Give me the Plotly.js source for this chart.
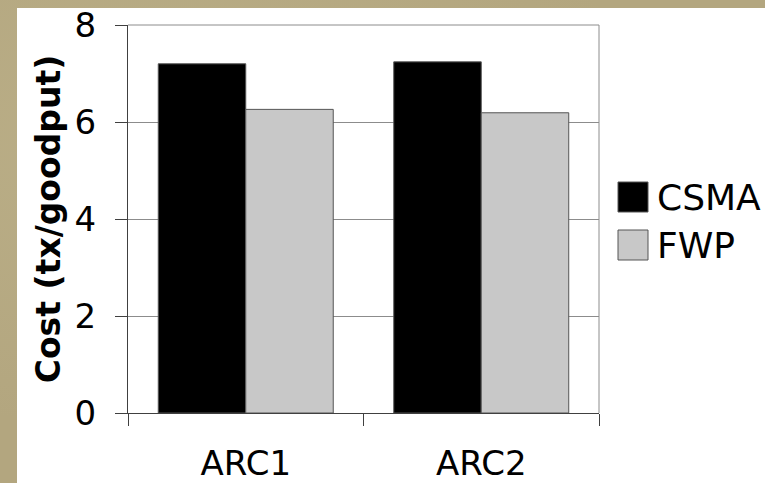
<!DOCTYPE html>
<html>
<head>
<meta charset="utf-8">
<script src="https://cdn.plot.ly/plotly-3.0.1.min.js"></script>
<style>
  html, body { margin: 0; padding: 0; width: 765px; height: 483px; overflow: hidden;
    background: #b3a67f;
    background-image: radial-gradient(ellipse at 20% 30%, rgba(200,190,150,0.35), rgba(0,0,0,0) 60%),
                      radial-gradient(ellipse at 80% 80%, rgba(150,140,100,0.3), rgba(0,0,0,0) 60%); }
  #panel { position: absolute; left: 17px; top: 8px; width: 748px; height: 475px; background: #fff; }
  #chart { position: absolute; left: 0; top: 0; width: 765px; height: 483px; }
</style>
</head>
<body>
<div id="panel"></div>
<div id="chart"></div>
<script>
// ---- data ----
const categories = ["ARC1", "ARC2"];
const seriesNames = ["CSMA", "FWP"];
const csmaValues = [7.20, 7.24];
const fwpValues = [6.26, 6.19];
const yTickValues = [0, 2, 4, 6, 8];

// ---- styling ----
const FONT = "DejaVu Sans, Verdana, sans-serif";
const colors = ["#000000", "#c8c8c8"];
const W = 765, H = 483;
const M = { l: 128, r: 166, t: 25, b: 70 };
const plotW = W - M.l - M.r, plotH = H - M.t - M.b;
const px = p => (p - M.l) / plotW;
const py = p => (H - M.b - p) / plotH;

const traces = [
  { type: "bar", name: seriesNames[0], x: categories, y: csmaValues,
    marker: { color: colors[0], line: { color: "#555555", width: 1 } }, showlegend: false },
  { type: "bar", name: seriesNames[1], x: categories, y: fwpValues,
    marker: { color: colors[1], line: { color: "#555555", width: 1 } }, showlegend: false }
];

// manual legend (large squares)
const legendRows = [ { y: 197 }, { y: 245 } ];
const shapes = [
  { type: "line", xref: "paper", yref: "paper", x0: 1, x1: 1, y0: 0, y1: 1, line: { color: "#8c8c8c", width: 1 }, layer: "below" },
  { type: "line", xref: "paper", yref: "paper", x0: 0, x1: 1, y0: 1, y1: 1, line: { color: "#8c8c8c", width: 1 }, layer: "below" }
];
const annotations = [];
seriesNames.forEach((n, i) => {
  const cy = legendRows[i].y;
  shapes.push({ type: "rect", xref: "paper", yref: "paper",
    x0: px(618), x1: px(648), y0: py(cy - 15), y1: py(cy + 15),
    fillcolor: colors[i], line: { color: "#555555", width: 1 } });
  annotations.push({ xref: "paper", yref: "paper", x: px(655), y: py(cy),
    xanchor: "left", yanchor: "middle", showarrow: false, text: n,
    font: { family: FONT, size: 36, color: "#000" } });
});

const layout = {
  width: W, height: H,
  paper_bgcolor: "rgba(0,0,0,0)", plot_bgcolor: "#ffffff",
  margin: M,
  barmode: "group", bargap: 0.257, bargroupgap: 0,
  showlegend: false,
  font: { family: FONT, color: "#000" },
  xaxis: {
    type: "category", tickson: "boundaries", ticks: "outside", ticklen: 12,
    tickcolor: "#404040", tickwidth: 1,
    showline: true, linecolor: "#404040", linewidth: 1,
    showgrid: false, zeroline: false,
    tickfont: { family: FONT, size: 34, color: "#000" },
    ticklabelstandoff: 20
  },
  yaxis: {
    range: [0, 8], tickvals: yTickValues, ticktext: yTickValues.map(String),
    ticks: "outside", ticklen: 12, tickcolor: "#404040", tickwidth: 1,
    showline: true, linecolor: "#404040", linewidth: 1,
    showgrid: true, gridcolor: "#8c8c8c", gridwidth: 1, zeroline: false,
    tickfont: { family: FONT, size: 34, color: "#000" },
    ticklabelstandoff: 12, ticklabeloverflow: "allow",
    title: { text: "<b>Cost (tx/goodput)</b>", font: { family: FONT, size: 33, color: "#000" }, standoff: 4 },
    automargin: false
  },
  shapes: shapes,
  annotations: annotations
};

Plotly.newPlot("chart", traces, layout, { displayModeBar: false, staticPlot: true });
</script>
</body>
</html>
